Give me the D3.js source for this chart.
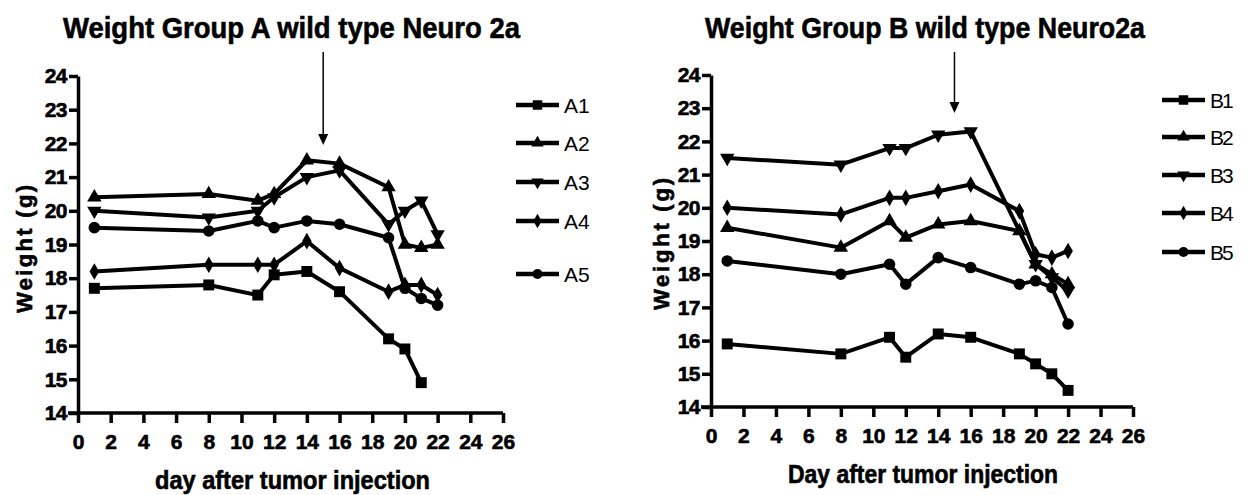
<!DOCTYPE html>
<html>
<head>
<meta charset="utf-8">
<script src="https://cdn.jsdelivr.net/npm/d3@7"></script>
<style>
  body { margin: 0; background: #fff; }
  svg { font-family: "Liberation Sans", Arial, Helvetica, sans-serif; }
  .heavy { stroke: #000; stroke-width: 0.6px; paint-order: stroke; }
</style>
</head>
<body>
<svg id="chart" width="1250" height="495"></svg>
<script>
// days on which the mice were weighed
const days = [1, 8, 11, 12, 14, 16, 19, 20, 21, 22];
const xTicks = [0, 2, 4, 6, 8, 10, 12, 14, 16, 18, 20, 22, 24, 26];
const yTicks = [14, 15, 16, 17, 18, 19, 20, 21, 22, 23, 24];

// group A weights (g)
const a1 = [17.7, 17.8, 17.5, 18.1, 18.2, 17.6, 16.2, 15.9, 14.9, null];
const a2 = [20.4, 20.5, 20.3, 20.5, 21.5, 21.4, 20.7, 19.0, 18.9, 19.0];
const a3 = [20.0, 19.8, 20.0, 20.4, 21.0, 21.2, 19.6, 20.0, 20.3, 19.3];
const a4 = [18.2, 18.4, 18.4, 18.4, 19.1, 18.3, 17.6, 17.8, 17.8, 17.5];
const a5 = [19.5, 19.4, 19.7, 19.5, 19.7, 19.6, 19.2, 17.7, 17.4, 17.2];

// group B weights (g)
const b1 = [15.9, 15.6, 16.1, 15.5, 16.2, 16.1, 15.6, 15.3, 15.0, 14.5];
const b2 = [19.4, 18.8, 19.6, 19.1, 19.5, 19.6, 19.3, 18.3, 18.0, 17.7];
const b3 = [21.5, 21.3, 21.8, 21.8, 22.2, 22.3, null, 18.3, 17.9, 17.5];
const b4 = [20.0, 19.8, 20.3, 20.3, 20.5, 20.7, 19.9, 18.6, 18.5, 18.7];
const b5 = [18.4, 18.0, 18.3, 17.7, 18.5, 18.2, 17.7, 17.8, 17.6, 16.5];

const namesA = ["A1", "A2", "A3", "A4", "A5"];
const namesB = ["B1", "B2", "B3", "B4", "B5"];
const shapes = ["square", "triangleUp", "triangleDown", "diamond", "circle"];
const injectionDay = 15;

const svg = d3.select('#chart');

function marker(shape, scale) {
  const k = scale || 1;
  if (shape === 'square') return { d: d3.symbol(d3.symbolSquare, 120 * k)(), rot: 0 };
  if (shape === 'triangleUp') return { d: d3.symbol(d3.symbolTriangle, 90 * k)(), rot: 0 };
  if (shape === 'triangleDown') return { d: d3.symbol(d3.symbolTriangle, 90 * k)(), rot: 180 };
  if (shape === 'diamond') return { d: d3.symbol(d3.symbolDiamond, 80 * k)(), rot: 0 };
  return { d: d3.symbol(d3.symbolCircle, 105 * k)(), rot: 0 };
}

function drawPanel(p) {
  const x = d3.scaleLinear().domain([0, 26]).range([p.left, p.right]);
  const y = d3.scaleLinear().domain([14, 24]).range([p.bottom, p.top]);
  const g = svg.append('g');

  // title
  g.append('text')
    .attr('class', 'heavy')
    .attr('x', p.titleX).attr('y', 38)
    .attr('font-size', 30).attr('font-weight', 'bold')
    .attr('textLength', p.titleLen).attr('lengthAdjust', 'spacingAndGlyphs')
    .text(p.title);

  // axes
  const xa = g.append('g')
    .attr('transform', `translate(0,${p.bottom})`)
    .call(d3.axisBottom(x).tickValues(xTicks).tickSize(10).tickSizeOuter(0).tickPadding(11));
  const ya = g.append('g')
    .attr('transform', `translate(${p.left},0)`)
    .call(d3.axisLeft(y).tickValues(yTicks).tickSize(9).tickSizeOuter(0).tickPadding(2));
  [xa, ya].forEach(a => {
    a.attr('font-family', null).attr('font-size', null);
    a.selectAll('path.domain').attr('stroke', '#000').attr('stroke-width', 3.5);
    a.selectAll('.tick line').attr('stroke', '#000').attr('stroke-width', 3.5);
    a.selectAll('.tick text')
      .attr('class', 'heavy')
      .attr('fill', '#000')
      .style('font-size', '21px')
      .style('font-weight', 'bold');
  });
  xa.select('path.domain').attr('d', `M${p.left - 10},0H${p.right}`);
  ya.selectAll('.tick text').attr('letter-spacing', -0.5);

  // axis titles
  g.append('text')
    .attr('class', 'heavy')
    .attr('x', p.xLabelX).attr('y', p.xLabelY)
    .attr('font-size', 25).attr('font-weight', 'bold')
    .attr('textLength', p.xLabelLen).attr('lengthAdjust', 'spacingAndGlyphs')
    .text(p.xLabel);
  g.append('text')
    .attr('class', 'heavy')
    .attr('transform', `translate(${p.yLabelX},${p.yLabelBottom}) rotate(-90)`)
    .attr('font-size', 22).attr('font-weight', 'bold')
    .attr('textLength', p.yLabelLen).attr('lengthAdjust', 'spacing')
    .text('Weight (g)');

  // series (a missing reading is skipped, the line runs straight across it)
  const line = d3.line().x(d => x(d[0])).y(d => y(d[1]));

  p.series.forEach((vals, i) => {
    const pts = days.map((d, j) => [d, vals[j]]).filter(d => d[1] != null);
    g.append('path')
      .attr('d', line(pts))
      .attr('fill', 'none').attr('stroke', '#000')
      .attr('stroke-width', 4).attr('stroke-linejoin', 'round');
    const m = marker(shapes[i]);
    g.selectAll(null)
      .data(pts)
      .enter().append('path')
      .attr('d', m.d)
      .attr('transform', d => `translate(${x(d[0])},${y(d[1])}) rotate(${m.rot})`)
      .attr('fill', '#000');
  });

  // injection arrow
  const ax = x(injectionDay);
  g.append('line')
    .attr('x1', ax).attr('x2', ax)
    .attr('y1', p.arrowTop).attr('y2', p.arrowTip - 10)
    .attr('stroke', '#000').attr('stroke-width', 1.5);
  g.append('path')
    .attr('d', `M${ax - 5},${p.arrowTip - 11}L${ax + 5},${p.arrowTip - 11}L${ax},${p.arrowTip}Z`)
    .attr('fill', '#000');

  // legend
  p.names.forEach((name, i) => {
    const ly = p.legendY[i];
    const lg = g.append('g').attr('transform', `translate(${p.legendX},${ly})`);
    lg.append('line').attr('x1', 0).attr('x2', 43)
      .attr('stroke', '#000').attr('stroke-width', 4.5);
    const m = marker(shapes[i], 0.75);
    lg.append('path').attr('d', m.d)
      .attr('transform', `translate(21.5,0) rotate(${m.rot})`).attr('fill', '#000');
    lg.append('text').attr('x', 48).attr('dy', '0.36em')
      .attr('font-size', 21).attr('letter-spacing', p.legendSpacing)
      .text(name);
  });
}

drawPanel({
  left: 78, right: 503, top: 76, bottom: 413,
  title: 'Weight Group A wild type Neuro 2a', titleX: 63, titleLen: 457,
  xLabel: 'day after tumor injection', xLabelX: 155, xLabelY: 489, xLabelLen: 275,
  yLabelX: 32, yLabelBottom: 313, yLabelLen: 128,
  series: [a1, a2, a3, a4, a5], names: namesA,
  arrowTop: 52, arrowTip: 145,
  legendX: 516, legendY: [105, 143, 182, 221, 274], legendSpacing: 0
});

drawPanel({
  left: 711, right: 1133, top: 75, bottom: 407,
  title: 'Weight Group B wild type Neuro2a', titleX: 705, titleLen: 440,
  xLabel: 'Day after tumor injection', xLabelX: 788, xLabelY: 483, xLabelLen: 270,
  yLabelX: 669, yLabelBottom: 310, yLabelLen: 132,
  series: [b1, b2, b3, b4, b5], names: namesB,
  arrowTop: 52, arrowTip: 113,
  legendX: 1162, legendY: [100, 137, 175, 213, 252], legendSpacing: -2
});
</script>
</body>
</html>
